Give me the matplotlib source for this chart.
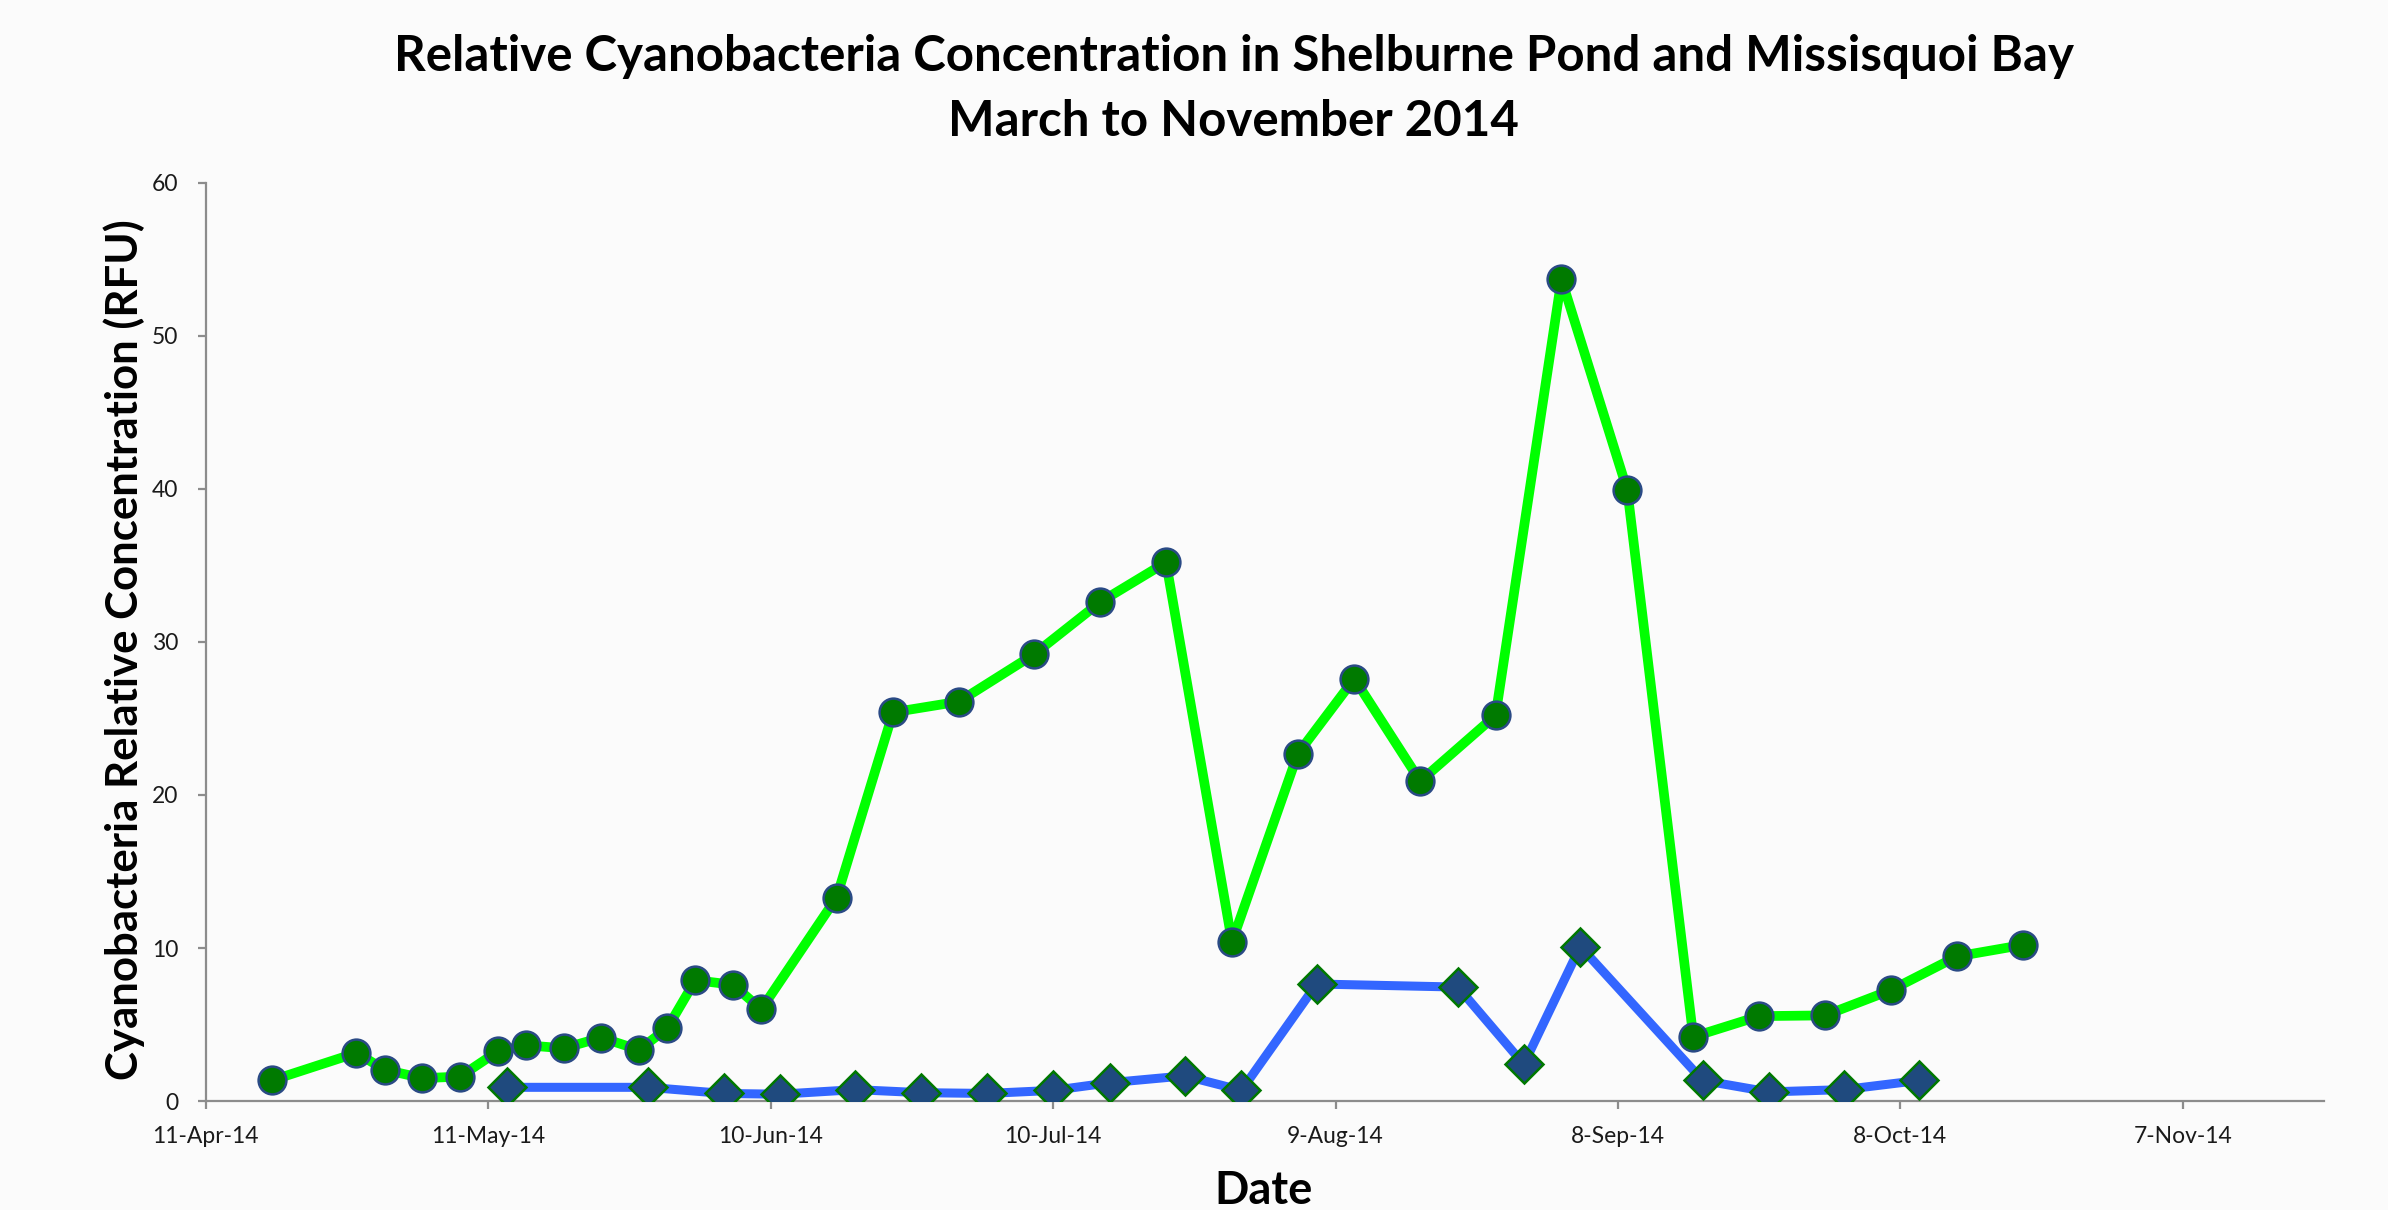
import datetime as dt
import matplotlib
matplotlib.use("Agg")
import matplotlib.pyplot as plt
import matplotlib.dates as mdates
from matplotlib.ticker import FuncFormatter, MultipleLocator

# ---- data ----
shelburne_dates = ["2014-04-18", "2014-04-27", "2014-04-30", "2014-05-04", "2014-05-08",
                   "2014-05-12", "2014-05-15", "2014-05-19", "2014-05-23", "2014-05-27",
                   "2014-05-30", "2014-06-02", "2014-06-06", "2014-06-09", "2014-06-17",
                   "2014-06-23", "2014-06-30", "2014-07-08", "2014-07-15", "2014-07-22",
                   "2014-07-29", "2014-08-05", "2014-08-11", "2014-08-18", "2014-08-26",
                   "2014-09-02", "2014-09-09", "2014-09-16", "2014-09-23", "2014-09-30",
                   "2014-10-07", "2014-10-14", "2014-10-21"]
shelburne_values = [1.35, 3.15, 2.05, 1.5, 1.6, 3.25, 3.65, 3.45, 4.15, 3.35,
                    4.75, 7.9, 7.6, 6.0, 13.3, 25.4, 26.1, 29.2, 32.6, 35.2,
                    10.4, 22.7, 27.6, 20.9, 25.2, 53.7, 39.9, 4.2, 5.55, 5.6,
                    7.25, 9.45, 10.2]

missisquoi_dates = ["2014-05-13", "2014-05-28", "2014-06-05", "2014-06-11", "2014-06-19",
                    "2014-06-26", "2014-07-03", "2014-07-10", "2014-07-16", "2014-07-24",
                    "2014-07-30", "2014-08-07", "2014-08-22", "2014-08-29", "2014-09-04",
                    "2014-09-17", "2014-09-24", "2014-10-02", "2014-10-10"]
missisquoi_values = [0.9, 0.9, 0.5, 0.45, 0.75, 0.55, 0.5, 0.7, 1.2, 1.65,
                     0.7, 7.65, 7.45, 2.4, 10.1, 1.35, 0.6, 0.75, 1.35]

x_start = "2014-04-11"
x_end = "2014-11-22"
y_max = 60
title_lines = ["Relative Cyanobacteria Concentration in Shelburne Pond and Missisquoi Bay",
               "March to November 2014"]
x_label = "Date"
y_label = "Cyanobacteria Relative Concentration (RFU)"

def to_dt(s):
    return dt.datetime.strptime(s, "%Y-%m-%d")

sd = [to_dt(s) for s in shelburne_dates]
md = [to_dt(s) for s in missisquoi_dates]

fig = plt.figure(figsize=(23.88, 12.10), dpi=100, facecolor="#fbfbfb")
ax = fig.add_axes([0.0862, 0.090, 0.887, 0.759])
ax.set_facecolor("none")

ax.plot(sd, shelburne_values, color="#00ff00", lw=7, marker="o", ms=20,
        mfc="#007a00", mec="#2a4a85", mew=1.8, zorder=3, solid_joinstyle="round")
ax.plot(md, missisquoi_values, color="#3366ff", lw=6.5, marker="D", ms=19.8,
        mfc="#1f4a7e", mec="#007800", mew=1.8, zorder=4, solid_joinstyle="round")

ax.set_xlim(to_dt(x_start), to_dt(x_end))
ax.set_ylim(0, y_max)
ax.yaxis.set_major_locator(MultipleLocator(10))

start = to_dt(x_start)
ticks = [start + dt.timedelta(days=30 * i) for i in range(8)]
ax.set_xticks(ticks)
ax.xaxis.set_major_formatter(FuncFormatter(
    lambda v, p: (lambda d: f"{d.day}-{d.strftime('%b-%y')}")(mdates.num2date(v))))

for s in ["top", "right"]:
    ax.spines[s].set_visible(False)
for s in ["left", "bottom"]:
    ax.spines[s].set_color("#8c8c8c")
    ax.spines[s].set_linewidth(1.6)
ax.tick_params(axis="both", direction="out", length=6, width=1.6, color="#8c8c8c",
               labelsize=16.5, labelcolor="#1a1a1a")
ax.tick_params(axis="x", pad=12)
ax.tick_params(axis="y", pad=14)
for lab in ax.get_xticklabels() + ax.get_yticklabels():
    lab.set_family(["Lato", "DejaVu Sans"])

fig.text(0.5166, 0.953, title_lines[0], ha="center", va="center",
         fontsize=35.5, fontweight="bold", family=["Lato", "DejaVu Sans"], color="#000000")
fig.text(0.5166, 0.900, title_lines[1], ha="center", va="center",
         fontsize=35.5, fontweight="bold", family=["Lato", "DejaVu Sans"], color="#000000")
fig.text(0.529, 0.016, x_label, ha="center", va="center",
         fontsize=32.5, fontweight="bold", family=["Lato", "DejaVu Sans"])
fig.text(0.052, 0.463, y_label, ha="center", va="center", rotation=90,
         fontsize=31.5, fontweight="bold", family=["Lato", "DejaVu Sans"])

fig.savefig("out.png", dpi=100, facecolor=fig.get_facecolor())
